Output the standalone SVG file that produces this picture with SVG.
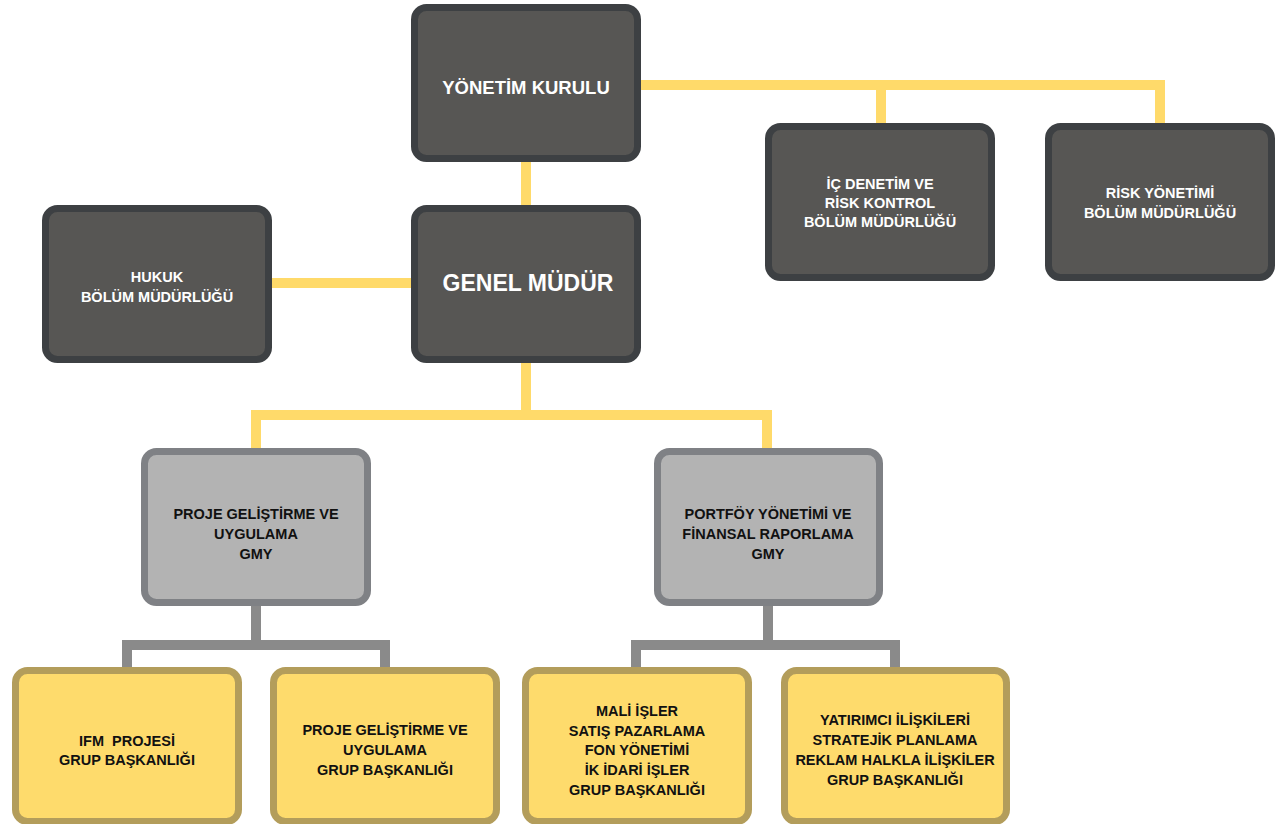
<svg xmlns="http://www.w3.org/2000/svg" width="1285" height="824" viewBox="0 0 1285 824">
<style>
.dark{fill:#575654;stroke:#3d4043;stroke-width:7}
.gray{fill:#b3b3b3;stroke:#7f8185;stroke-width:7}
.yel{fill:#fedb6c;stroke:#b39d5b;stroke-width:7}
.cy{fill:none;stroke:#ffda6a;stroke-width:10;stroke-linejoin:miter}
.cg{fill:none;stroke:#8a8a8a;stroke-width:10;stroke-linejoin:miter}
text{font-family:"Liberation Sans",Arial,sans-serif;font-weight:bold;text-anchor:middle}
.w{fill:#ffffff;font-size:14.5px}
.b{fill:#111111;font-size:14.5px}
</style>
<rect width="1285" height="824" fill="#ffffff"/>
<g id="connectors">
<polyline class="cy" points="526,162 526,205"/>
<polyline class="cy" points="641,85 1160,85 1160,124"/>
<polyline class="cy" points="881,85 881,124"/>
<polyline class="cy" points="272,283 411,283"/>
<polyline class="cy" points="526,361 526,415"/>
<polyline class="cy" points="256,448 256,415 767,415 767,448"/>
<polyline class="cg" points="256,606 256,645"/>
<polyline class="cg" points="127,667 127,645 385,645 385,667"/>
<polyline class="cg" points="768,606 768,645"/>
<polyline class="cg" points="636,667 636,645 895,645 895,667"/>
</g>
<g id="yonetim-kurulu">
<rect class="dark" x="414.5" y="7.5" width="223" height="151" rx="12"/>
<text class="w" x="526" y="94" style="font-size:18.5px">YÖNETİM KURULU</text>
</g>
<g id="ic-denetim">
<rect class="dark" x="768.5" y="126.5" width="223" height="151" rx="12"/>
<text class="w" x="880" y="189">İÇ DENETİM VE</text>
<text class="w" x="880" y="208">RİSK KONTROL</text>
<text class="w" x="880" y="227">BÖLÜM MÜDÜRLÜĞÜ</text>
</g>
<g id="risk-yonetimi">
<rect class="dark" x="1048.5" y="126.5" width="223" height="151" rx="12"/>
<text class="w" x="1160" y="198">RİSK YÖNETİMİ</text>
<text class="w" x="1160" y="218">BÖLÜM MÜDÜRLÜĞÜ</text>
</g>
<g id="hukuk">
<rect class="dark" x="45.5" y="208.5" width="223" height="151" rx="12"/>
<text class="w" x="157" y="282">HUKUK</text>
<text class="w" x="157" y="302">BÖLÜM MÜDÜRLÜĞÜ</text>
</g>
<g id="genel-mudur">
<rect class="dark" x="414.5" y="208.5" width="223" height="151" rx="12"/>
<text class="w" x="528" y="291" style="font-size:23px">GENEL MÜDÜR</text>
</g>
<g id="proje-gmy">
<rect class="gray" x="144.5" y="451.5" width="223" height="151" rx="12"/>
<text class="b" x="256" y="519">PROJE GELİŞTİRME VE</text>
<text class="b" x="256" y="539">UYGULAMA</text>
<text class="b" x="256" y="559">GMY</text>
</g>
<g id="portfoy-gmy">
<rect class="gray" x="657.5" y="451.5" width="222" height="151" rx="12"/>
<text class="b" x="768" y="519">PORTFÖY YÖNETİMİ VE</text>
<text class="b" x="768" y="539">FİNANSAL RAPORLAMA</text>
<text class="b" x="768" y="559">GMY</text>
</g>
<g id="ifm">
<rect class="yel" x="15.5" y="670.5" width="223" height="151" rx="12"/>
<text class="b" x="127" y="746" style="white-space:pre" xml:space="preserve">IFM  PROJESİ</text>
<text class="b" x="127" y="765">GRUP BAŞKANLIĞI</text>
</g>
<g id="proje-grup">
<rect class="yel" x="273.5" y="670.5" width="223" height="151" rx="12"/>
<text class="b" x="385" y="735">PROJE GELİŞTİRME VE</text>
<text class="b" x="385" y="755">UYGULAMA</text>
<text class="b" x="385" y="775">GRUP BAŞKANLIĞI</text>
</g>
<g id="mali-isler">
<rect class="yel" x="525.5" y="670.5" width="223" height="151" rx="12"/>
<text class="b" x="637" y="716">MALİ İŞLER</text>
<text class="b" x="637" y="736">SATIŞ PAZARLAMA</text>
<text class="b" x="637" y="755">FON YÖNETİMİ</text>
<text class="b" x="637" y="775">İK İDARİ İŞLER</text>
<text class="b" x="637" y="795">GRUP BAŞKANLIĞI</text>
</g>
<g id="yatirimci">
<rect class="yel" x="784.5" y="670.5" width="222" height="151" rx="12"/>
<text class="b" x="895" y="725">YATIRIMCI İLİŞKİLERİ</text>
<text class="b" x="895" y="745">STRATEJİK PLANLAMA</text>
<text class="b" x="895" y="765">REKLAM HALKLA İLİŞKİLER</text>
<text class="b" x="895" y="785">GRUP BAŞKANLIĞI</text>
</g>
</svg>
